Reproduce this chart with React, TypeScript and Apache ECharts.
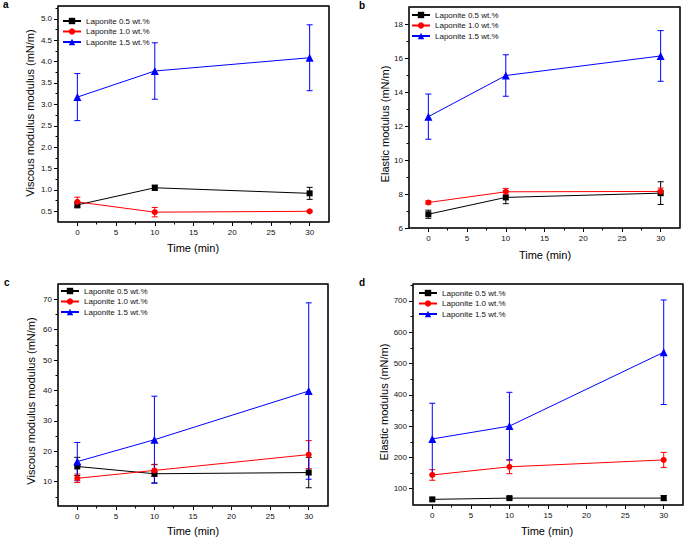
import React, { useEffect, useRef } from 'react';
import * as echarts from 'echarts';

// ---- data ----
const TIME = [0, 10, 30];
const SERIES_NAMES = ['Laponite 0.5 wt.%', 'Laponite 1.0 wt.%', 'Laponite 1.5 wt.%'];

// panel a: viscous modulus (mN/m)
const A_05 = [0.65, 1.05, 0.92];
const A_05_ERR = [0.07, 0.06, 0.14];
const A_10 = [0.72, 0.48, 0.5];
const A_10_ERR = [0.11, 0.11, 0.02];
const A_15 = [3.17, 3.78, 4.09];
const A_15_ERR = [0.55, 0.66, 0.77];

// panel b: elastic modulus (mN/m)
const B_05 = [6.81, 7.8, 8.05];
const B_05_ERR = [0.24, 0.37, 0.67];
const B_10 = [7.5, 8.13, 8.15];
const B_10_ERR = [0.1, 0.2, 0.2];
const B_15 = [12.55, 14.97, 16.12];
const B_15_ERR = [1.33, 1.22, 1.49];

// panel c: viscous modulus (mN/m)
const C_05 = [15.0, 12.6, 13.0];
const C_05_ERR = [3.0, 3.0, 5.0];
const C_10 = [11.1, 13.7, 18.9];
const C_10_ERR = [1.4, 2.0, 4.6];
const C_15 = [16.6, 23.8, 39.8];
const C_15_ERR = [6.3, 14.3, 29.0];

// panel d: elastic modulus (mN/m)
const D_05 = [66, 70, 70];
const D_05_ERR = [5, 5, 8];
const D_10 = [144, 170, 192];
const D_10_ERR = [17, 22, 24];
const D_15 = [259, 300, 536];
const D_15_ERR = [114, 108, 167];

// tick labels
const X_TICKS = [0, 5, 10, 15, 20, 25, 30];
const X_MINOR = [2.5, 7.5, 12.5, 17.5, 22.5, 27.5];
const A_Y_TICKS = [0.5, 1.0, 1.5, 2.0, 2.5, 3.0, 3.5, 4.0, 4.5, 5.0];
const A_Y_MINOR = [0.75, 1.25, 1.75, 2.25, 2.75, 3.25, 3.75, 4.25, 4.75, 5.25];
const B_Y_TICKS = [6, 8, 10, 12, 14, 16, 18];
const B_Y_MINOR = [7, 9, 11, 13, 15, 17];
const C_Y_TICKS = [10, 20, 30, 40, 50, 60, 70];
const C_Y_MINOR = [5, 15, 25, 35, 45, 55, 65];
const D_Y_TICKS = [100, 200, 300, 400, 500, 600, 700];
const D_Y_MINOR = [150, 250, 350, 450, 550, 650, 750];

const X_TITLE = 'Time (min)';
const VISCOUS_TITLE = 'Viscous modulus modulus (mN/m)';
const ELASTIC_TITLE = 'Elastic modulus (mN/m)';

// ---- style ----
const COLORS = ['#000000', '#ff0000', '#0000ff'];
const SYMBOLS = ['rect', 'circle', 'triangle'];
const SYMBOL_SIZES = [6, 6, 8];
const FONT = 'Liberation Sans, Arial, sans-serif';
const FRAME_COLOR = '#1a1a1a';

const PANELS = [
  {
    letter: 'a', grid: { left: 58, top: 6, width: 271, height: 216 },
    yMin: 0.25, yMax: 5.3, yTicks: A_Y_TICKS, yMinor: A_Y_MINOR, dec: 1,
    vals: [A_05, A_10, A_15], errs: [A_05_ERR, A_10_ERR, A_15_ERR],
    yTitle: VISCOUS_TITLE, yTitlePos: [30, 113], xTitlePos: [193, 248], letterPos: [3, 4],
    legend: { left: 62, top: 17 },
  },
  {
    letter: 'b', grid: { left: 409, top: 7, width: 271, height: 221 },
    yMin: 6, yMax: 19, yTicks: B_Y_TICKS, yMinor: B_Y_MINOR, dec: 0,
    vals: [B_05, B_10, B_15], errs: [B_05_ERR, B_10_ERR, B_15_ERR],
    yTitle: ELASTIC_TITLE, yTitlePos: [385, 124], xTitlePos: [545, 255], letterPos: [359, 5],
    legend: { left: 411, top: 11 },
  },
  {
    letter: 'c', grid: { left: 58, top: 284, width: 270, height: 222 },
    yMin: 2, yMax: 75, yTicks: C_Y_TICKS, yMinor: C_Y_MINOR, dec: 0,
    vals: [C_05, C_10, C_15], errs: [C_05_ERR, C_10_ERR, C_15_ERR],
    yTitle: VISCOUS_TITLE, yTitlePos: [31, 401], xTitlePos: [193, 531], letterPos: [4, 282],
    legend: { left: 60, top: 287 },
  },
  {
    letter: 'd', grid: { left: 413, top: 284, width: 270, height: 221 },
    yMin: 48, yMax: 754, yTicks: D_Y_TICKS, yMinor: D_Y_MINOR, dec: 0,
    vals: [D_05, D_10, D_15], errs: [D_05_ERR, D_10_ERR, D_15_ERR],
    yTitle: ELASTIC_TITLE, yTitlePos: [384, 402], xTitlePos: [547, 531], letterPos: [359, 282],
    legend: { left: 418, top: 289 },
  },
];

function tickLine() {
  return { color: '#000000', width: 1 };
}

function buildOption() {
  const grid: any[] = [];
  const xAxis: any[] = [];
  const yAxis: any[] = [];
  const series: any[] = [];
  const legend: any[] = [];
  const graphic: any[] = [];

  PANELS.forEach((p, i) => {
    grid.push({
      ...p.grid, show: true, borderColor: FRAME_COLOR, borderWidth: 1,
      backgroundColor: 'rgba(0,0,0,0)',
    });
    const xm = 2 * i, ym = 2 * i;
    xAxis.push({
      type: 'value', gridIndex: i, min: -2.5, max: 32.5, position: 'bottom',
      axisLine: { show: false, onZero: false }, splitLine: { show: false },
      axisTick: { show: true, customValues: X_TICKS, length: 4, lineStyle: tickLine() },
      axisLabel: { show: true, customValues: X_TICKS, fontSize: 8, color: '#111', margin: 6, fontFamily: FONT },
    });
    xAxis.push({
      type: 'value', gridIndex: i, min: -2.5, max: 32.5, position: 'bottom', offset: 0,
      axisLine: { show: false, onZero: false }, splitLine: { show: false },
      axisTick: { show: true, customValues: X_MINOR, length: 2.5, lineStyle: tickLine() },
      axisLabel: { show: false },
    });
    yAxis.push({
      type: 'value', gridIndex: i, min: p.yMin, max: p.yMax, position: 'left',
      axisLine: { show: false, onZero: false }, splitLine: { show: false },
      axisTick: { show: true, customValues: p.yTicks, length: 4, lineStyle: tickLine() },
      axisLabel: {
        show: true, customValues: p.yTicks, fontSize: 8, color: '#111', margin: 6, fontFamily: FONT,
        formatter: (v: number) => v.toFixed(p.dec),
      },
    });
    yAxis.push({
      type: 'value', gridIndex: i, min: p.yMin, max: p.yMax, position: 'left', offset: 0,
      axisLine: { show: false, onZero: false }, splitLine: { show: false },
      axisTick: { show: true, customValues: p.yMinor, length: 2.5, lineStyle: tickLine() },
      axisLabel: { show: false },
    });

    // plot frame (layout only)
    graphic.push({
      type: 'rect', z: 100,
      shape: { x: p.grid.left, y: p.grid.top, width: p.grid.width, height: p.grid.height },
      style: { stroke: FRAME_COLOR, lineWidth: 1.5, fill: 'rgba(0,0,0,0)' },
    });

    for (let s = 0; s < 3; s++) {
      const color = COLORS[s];
      series.push({
        type: 'custom', name: `err-${p.letter}-${s}`, xAxisIndex: xm, yAxisIndex: ym,
        z: 2, silent: true,
        data: TIME.map((t, k) => [t, p.vals[s][k], p.errs[s][k]]),
        encode: { x: 0, y: 1 },
        renderItem: (params: any, api: any) => {
          const x = api.value(0), y = api.value(1), e = api.value(2);
          const top = api.coord([x, y + e]);
          const bot = api.coord([x, y - e]);
          const cw = 3;
          const st = { stroke: color, lineWidth: 1 };
          return {
            type: 'group',
            children: [
              { type: 'line', shape: { x1: top[0], y1: top[1], x2: bot[0], y2: bot[1] }, style: st },
              { type: 'line', shape: { x1: top[0] - cw, y1: top[1], x2: top[0] + cw, y2: top[1] }, style: st },
              { type: 'line', shape: { x1: bot[0] - cw, y1: bot[1], x2: bot[0] + cw, y2: bot[1] }, style: st },
            ],
          };
        },
      });
      series.push({
        type: 'line', name: SERIES_NAMES[s], xAxisIndex: xm, yAxisIndex: ym, z: 3,
        data: TIME.map((t, k) => [t, p.vals[s][k]]),
        symbol: SYMBOLS[s], symbolSize: SYMBOL_SIZES[s],
        lineStyle: { color, width: 1 }, itemStyle: { color },
      });
    }

    legend.push({
      data: SERIES_NAMES, orient: 'vertical', left: p.legend.left, top: p.legend.top,
      itemWidth: 18, itemHeight: 8, itemGap: 2.5, padding: 0, selectedMode: false,
      textStyle: { fontSize: 8, color: '#111', fontFamily: FONT },
    });

    graphic.push({
      type: 'text', x: p.yTitlePos[0], y: p.yTitlePos[1], rotation: Math.PI / 2,
      style: { text: p.yTitle, font: `11px ${FONT}`, fill: '#000', align: 'center', verticalAlign: 'middle' },
    });
    graphic.push({
      type: 'text', x: p.xTitlePos[0], y: p.xTitlePos[1],
      style: { text: X_TITLE, font: `11px ${FONT}`, fill: '#000', align: 'center', verticalAlign: 'middle' },
    });
    graphic.push({
      type: 'text', x: p.letterPos[0], y: p.letterPos[1],
      style: { text: p.letter, font: `bold 10px ${FONT}`, fill: '#000', align: 'left', verticalAlign: 'middle' },
    });
  });

  return {
    animation: false,
    backgroundColor: '#ffffff',
    grid, xAxis, yAxis, series, legend, graphic,
  };
}

export default function App() {
  const ref = useRef<HTMLDivElement>(null);
  useEffect(() => {
    if (!ref.current) return;
    const chart = echarts.init(ref.current, undefined, { renderer: 'svg' });
    chart.setOption(buildOption() as any);
    return () => chart.dispose();
  }, []);
  return (
    <div
      ref={ref}
      style={{ position: 'fixed', left: 0, top: 0, width: 685, height: 537, background: '#fff' }}
    />
  );
}
